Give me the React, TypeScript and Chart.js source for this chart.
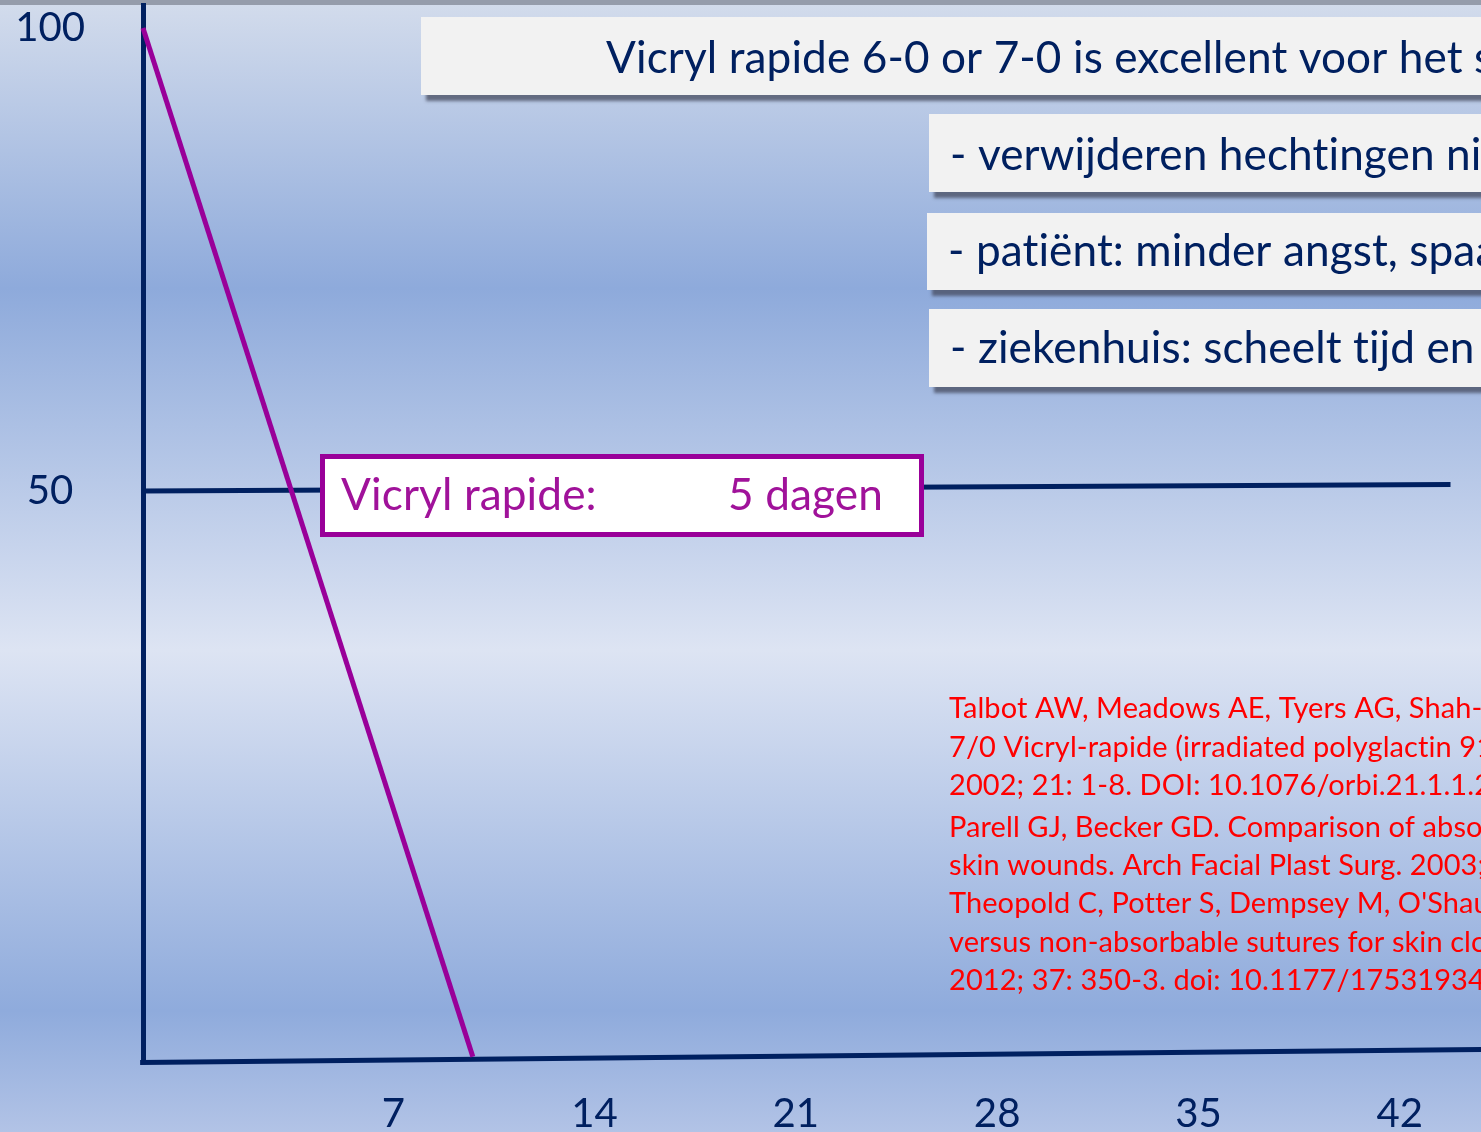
import React, { useEffect, useRef } from "react";
import { Chart, registerables } from "chart.js";

Chart.register(...registerables);

// ---- data ----
const xTickValues = [7, 14, 21, 28, 35, 42];
const yTickValues = [50, 100];
const xRange = [0, 46.53];
const yRange = [-11.77, 102.48];
// Vicryl rapide remaining strength (%), days
const rapideDecay = [
  { x: 0, y: 100 },
  { x: 11.47, y: -11.1 },
];
// 50 % reference line
const halfLine = [
  { x: 0, y: 50 },
  { x: 45.47, y: 50.7 },
];
// drawn baseline (time axis)
const baseLine = [
  { x: -0.1, y: -11.72 },
  { x: 46.53, y: -10.31 },
];

const boxLabel = "Vicryl rapide:";
const boxValue = "5 dagen";

const headerLines = [
  "Vicryl rapide 6-0 or 7-0 is excellent voor het sluiten van de huid",
  "- verwijderen hechtingen niet nodig",
  "- patiënt: minder angst, spaart tijd",
  "- ziekenhuis: scheelt tijd en geld",
];

const refLines = [
  "Talbot AW, Meadows AE, Tyers AG, Shah-Desai SD. Use of",
  "7/0 Vicryl-rapide (irradiated polyglactin 910) for eyelid and periocular",
  "2002; 21: 1-8. DOI: 10.1076/orbi.21.1.1.2598",
  "Parell GJ, Becker GD. Comparison of absorbable with nonabsorbable sutures in closure of facial",
  "skin wounds. Arch Facial Plast Surg. 2003; 5: 488-90.",
  "Theopold C, Potter S, Dempsey M, O'Shaughnessy M. A randomised controlled trial of absorbable",
  "versus non-absorbable sutures for skin closure after open carpal tunnel release. J Hand Surg Eur Vol.",
  "2012; 37: 350-3. doi: 10.1177/1753193411426223",
];

// ---- styles ----
const FONT = "Lato, 'Open Sans', sans-serif";
const NAVY = "#002060";
const PURPLE = "#990099";
const BOX_TEXT = "#a0129a";
const RED = "#ff0000";

function fitSize(text: string, width: number): number {
  const c = document.createElement("canvas").getContext("2d")! as any;
  c.font = `100px ${FONT}`;
  if ("letterSpacing" in c) c.letterSpacing = "0.1px";
  return (100 * width) / c.measureText(text).width;
}

export default function App() {
  const ref = useRef<HTMLCanvasElement>(null);

  useEffect(() => {
    const canvas = ref.current!;
    const axisSize = fitSize("100", 70);
    const headerSize = fitSize("- verwijderen hechtingen", 483.5);
    const boxSize = fitSize(boxLabel, 255);
    const refSize = fitSize("Talbot AW, Meadows AE, Tyers AG, Shah", 520);

    const headerBoxes = [
      { x: 421, y: 17, h: 78, tx: 606, ty: 73 },
      { x: 929, y: 114, h: 78, tx: 950, ty: 170 },
      { x: 927, y: 213, h: 77, tx: 948, ty: 266 },
      { x: 929, y: 309, h: 78, tx: 950, ty: 363 },
    ];
    const refBaselines = [718, 756.5, 795, 836.5, 875, 913, 951.5, 990];

    const decor = {
      id: "decor",
      beforeDraw(chart: any) {
        const ctx = chart.ctx as CanvasRenderingContext2D;
        const W = chart.width;
        const H = chart.height;
        ctx.save();
        const g = ctx.createLinearGradient(0, 0, 0, H);
        g.addColorStop(0, "#d3dcec");
        g.addColorStop(0.255, "#8eaadb");
        g.addColorStop(0.574, "#dde4f3");
        g.addColorStop(0.893, "#8fabdc");
        g.addColorStop(1, "#b2c3e6");
        ctx.fillStyle = g;
        ctx.fillRect(0, 0, W, H);
        ctx.fillStyle = "#959cab";
        ctx.fillRect(0, 0, W, 5);
        ctx.restore();
      },
      afterDraw(chart: any) {
        const ctx = chart.ctx as any;
        const W = chart.width;
        ctx.save();
        if ("letterSpacing" in ctx) ctx.letterSpacing = "0.1px";
        // header boxes
        headerBoxes.forEach((b, i) => {
          ctx.save();
          ctx.shadowColor = "rgba(70,75,95,0.75)";
          ctx.shadowOffsetX = 5;
          ctx.shadowOffsetY = 6;
          ctx.shadowBlur = 3;
          ctx.fillStyle = "#f2f2f2";
          ctx.fillRect(b.x, b.y, W - b.x + 40, b.h);
          ctx.restore();
          ctx.fillStyle = NAVY;
          ctx.font = `${headerSize}px ${FONT}`;
          ctx.textAlign = "left";
          ctx.textBaseline = "alphabetic";
          ctx.fillText(headerLines[i], b.tx, b.ty);
        });
        // purple label box
        ctx.fillStyle = "#ffffff";
        ctx.fillRect(322.5, 456.5, 599, 78);
        ctx.strokeStyle = PURPLE;
        ctx.lineWidth = 5;
        ctx.strokeRect(322.5, 456.5, 599, 78);
        ctx.fillStyle = BOX_TEXT;
        ctx.font = `${boxSize}px ${FONT}`;
        ctx.textBaseline = "alphabetic";
        ctx.fillText(boxLabel, 341, 510);
        ctx.fillText(boxValue, 728, 510);
        // references
        ctx.fillStyle = RED;
        ctx.font = `${refSize}px ${FONT}`;
        refLines.forEach((t, i) => ctx.fillText(t, 949, refBaselines[i]));
        ctx.restore();
      },
    };

    const chart = new Chart(canvas, {
      type: "line",
      data: {
        datasets: [
          {
            label: "Vicryl rapide",
            data: rapideDecay,
            borderColor: PURPLE,
            borderWidth: 5,
            pointRadius: 0,
            order: 0,
            clip: false,
            fill: false,
          },
          {
            label: "50%",
            data: halfLine,
            borderColor: NAVY,
            borderWidth: 5,
            pointRadius: 0,
            order: 1,
            clip: false,
            fill: false,
          },
          {
            label: "axis",
            data: baseLine,
            borderColor: NAVY,
            borderWidth: 5,
            pointRadius: 0,
            order: 2,
            clip: false,
            fill: false,
          },
        ],
      },
      options: {
        responsive: false,
        animation: false,
        devicePixelRatio: 1,
        events: [],
        layout: { padding: { top: 5, left: 0, right: 0, bottom: 0 } },
        plugins: { legend: { display: false }, tooltip: { enabled: false } },
        scales: {
          x: {
            type: "linear",
            min: xRange[0],
            max: xRange[1],
            afterBuildTicks: (s: any) => {
              s.ticks = xTickValues.map((v) => ({ value: v }));
            },
            afterFit: (s: any) => {
              s.height = 69;
            },
            grid: { display: false, drawTicks: false },
            border: { display: false },
            ticks: {
              color: NAVY,
              font: { family: FONT, size: axisSize, lineHeight: 0.01 },
              padding: 51,
              labelOffset: 49,
              maxRotation: 0,
              autoSkip: false,
              callback: (v: any) => String(v),
            },
          },
          y: {
            type: "linear",
            min: yRange[0],
            max: yRange[1],
            afterBuildTicks: (s: any) => {
              s.ticks = yTickValues.map((v) => ({ value: v }));
            },
            afterFit: (s: any) => {
              s.width = 143;
            },
            grid: {
              display: true,
              drawOnChartArea: false,
              drawTicks: true,
              tickLength: 58,
              color: "rgba(0,0,0,0)",
            },
            border: { display: true, color: NAVY, width: 5 },
            ticks: {
              color: NAVY,
              font: { family: FONT, size: axisSize, lineHeight: 0.01 },
              padding: 0,
              crossAlign: "center",
              autoSkip: false,
              callback: (v: any) => String(v),
            },
          },
        },
      } as any,
      plugins: [decor],
    });
    return () => chart.destroy();
  }, []);

  return (
    <div style={{ position: "fixed", left: 0, top: 0, width: 1481, height: 1132, overflow: "hidden" }}>
      <canvas ref={ref} width={1481} height={1132} style={{ display: "block" }} />
    </div>
  );
}
